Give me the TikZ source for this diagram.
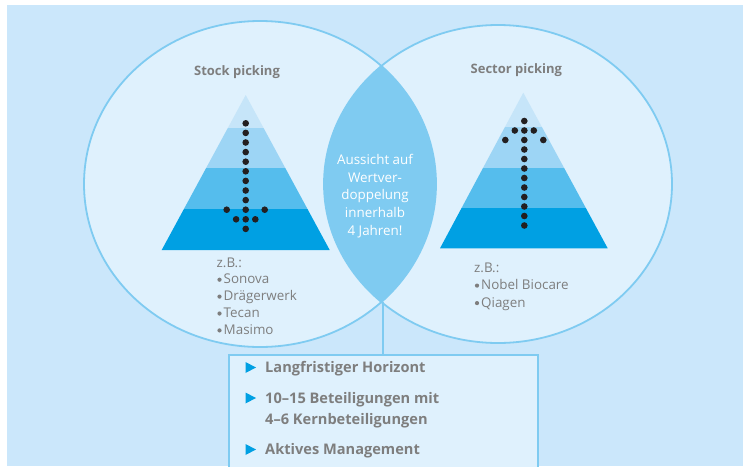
\documentclass[tikz,border=0pt]{standalone}
\usepackage{fontspec}
\setmainfont{Open Sans}
\usetikzlibrary{positioning}

\definecolor{bgblue}{HTML}{CBE7FB}
\definecolor{innerblue}{HTML}{DFF1FD}
\definecolor{rimblue}{HTML}{7FCBF1}
\definecolor{bandA}{HTML}{C6E5F9}
\definecolor{bandB}{HTML}{9DD5F5}
\definecolor{bandC}{HTML}{55BDED}
\definecolor{bandD}{HTML}{00A0E3}
\definecolor{textgrey}{HTML}{7E7E7E}
\definecolor{dotblack}{HTML}{231F20}

\tikzset{
  rim/.style={draw=rimblue, line width=1.8pt},
  dot/.style={fill=dotblack},
  greydot/.style={fill=textgrey},
  title/.style={font=\bfseries\fontsize{13}{15}\selectfont, text=textgrey, inner sep=0pt},
  item/.style={font=\fontsize{13.4}{15}\selectfont, text=textgrey, anchor=base west, inner sep=0pt},
  point/.style={font=\bfseries\fontsize{14.6}{21}\selectfont, text=textgrey, anchor=base west, inner sep=0pt},
  tick/.style={fill=bandD},
}

\begin{document}
\begin{tikzpicture}[x=1pt, y=-1pt]
    \useasboundingbox (0,0) rectangle (743,466);
    \fill [bgblue] (7,5) rectangle (743,466);
    % the two circles and their overlap
    \fill [innerblue] (260,184) ellipse [x radius=176pt, y radius=163pt];
    \fill [innerblue] (498,184) ellipse [x radius=174pt, y radius=159pt];
    \begin{scope}
        \clip (260,184) ellipse [x radius=176pt, y radius=163pt];
        \fill [rimblue] (498,184) ellipse [x radius=174pt, y radius=159pt];
    \end{scope}
    \draw [rim] (260,184) ellipse [x radius=176pt, y radius=163pt];
    \draw [rim] (498,184) ellipse [x radius=174pt, y radius=159pt];
    \coordinate (meet) at (383,302);
    % box below
    \node [rim, fill=innerblue, anchor=north west, minimum width=309pt, minimum height=130pt, inner sep=0pt] (panel) at (228,354) {};
    \draw [rim] (meet) -- (panel.north -| meet);
    % pyramids
    \begin{scope}
        \clip (245.7,95) -- (329.7,250) -- (161.7,250) -- cycle;
        \foreach \ytop/\ybot/\col in {90/128.3/bandA, 128.3/168.3/bandB, 168.3/209.3/bandC, 209.3/251/bandD} {
            \fill [\col] (150,\ytop) rectangle (340,\ybot);
        }
    \end{scope}
    \begin{scope}
        \clip (523.3,92.7) -- (607.7,248.3) -- (440,248.3) -- cycle;
        \foreach \ytop/\ybot/\col in {88/126.7/bandA, 126.7/167.7/bandB, 167.7/207.7/bandC, 207.7/249/bandD} {
            \fill [\col] (430,\ytop) rectangle (620,\ybot);
        }
    \end{scope}
    % dotted arrows
    \foreach \k in {0, 1, ..., 11} {
        \fill [dot] (245.7, {123.3+\k*9.6}) circle (3.3pt);
        \fill [dot] (524.3, {121+\k*9.5}) circle (3.3pt);
    }
    \fill [dot] (226.7,209.7) circle (3.3pt);\fill [dot] (264.7,209.7) circle (3.3pt);
    \fill [dot] (236.1,219.3) circle (3.3pt);\fill [dot] (255.3,219.3) circle (3.3pt);
    \fill [dot] (514.8,130.5) circle (3.3pt);\fill [dot] (533.8,130.5) circle (3.3pt);
    \fill [dot] (505.3,140) circle (3.3pt);\fill [dot] (543.3,140) circle (3.3pt);
    % titles
    \node [title] (stock) at (237,72.5) {Stock picking};
    \node [title] (sector) at (516.3,70.5) {Sector picking};
    % examples
    \node [item] (zbstock) at (216.5,267) {z.B.:};
    \foreach \txt [count=\k] in {Sonova, Drägerwerk, Tecan, Masimo} {
        \node [item] (stock\k) at (216.5, {267+\k*16.9}) {\hspace{7pt}\txt};
        \fill [greydot] ([xshift=3pt, yshift=4.2pt]stock\k.base west) circle (2.1pt);
    }
    \node [item] (zbsector) at (474,272.3) {z.B.:};
    \foreach \txt [count=\k] in {Nobel Biocare, Qiagen} {
        \node [item] (sector\k) at (474, {272.3+\k*17.5}) {\hspace{7pt}\txt};
        \fill [greydot] ([xshift=3pt, yshift=4.2pt]sector\k.base west) circle (2.1pt);
    }
    % overlap text
    \node [font=\fontsize{13.4}{17.7}\selectfont, text=white, align=center, inner sep=0pt] (outlook) at (375,196)
        {Aussicht auf\\Wertver-\\doppelung\\innerhalb\\4 Jahren!};
    % points in the box
    \foreach \y in {367.5, 398, 449.5} {
        \fill [tick] (245.5,{\y-5.5}) -- (256,\y) -- (245.5,{\y+5.5}) -- cycle;
    }
    \node [point] (horizon) at (265,372.5) {Langfristiger Horizont};
    \node [point] (holdings) at (265,403) {10–15 Beteiligungen mit};
    \node [point] (coreholdings) at (265,424) {4–6 Kernbeteiligungen};
    \node [point] (active) at (265,454.5) {Aktives Management};
\end{tikzpicture}
\end{document}
